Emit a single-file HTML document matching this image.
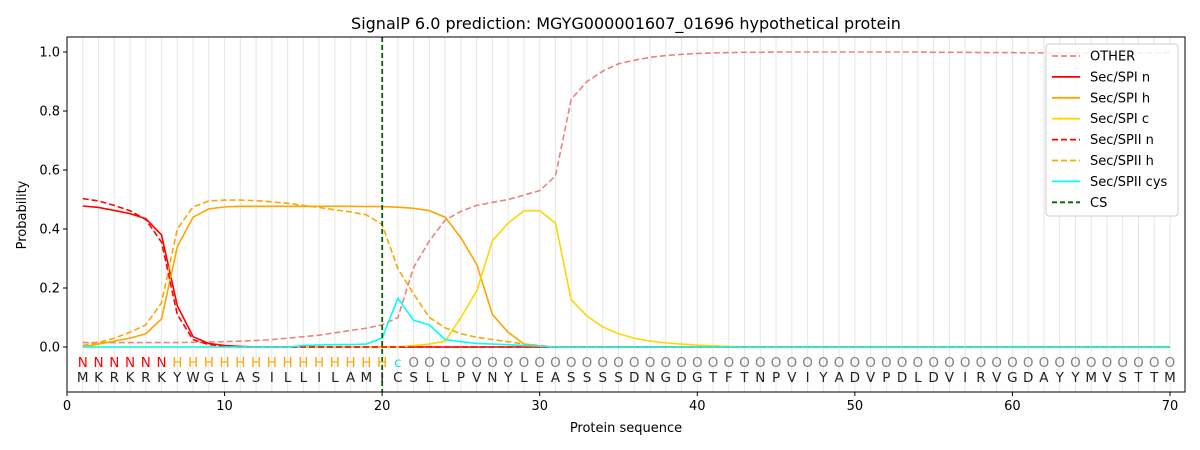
<!DOCTYPE html><html><head><meta charset="utf-8"><style>body{margin:0;background:#fff}svg{display:block;font-family:"DejaVu Sans","Liberation Sans",sans-serif}</style></head><body>
<svg id="s" width="1200" height="450" xmlns="http://www.w3.org/2000/svg">
<rect width="1200" height="450" fill="#fff"/>
<g id="grid"></g>
<g id="lines"></g>
<line x1="382.2" y1="37" x2="382.2" y2="392" stroke="#006400" stroke-width="1.8" stroke-dasharray="5,3"/>
<rect x="67" y="37" width="1118" height="355" fill="none" stroke="#000" stroke-width="1"/>
<g id="ticks" font-size="13"></g>
<g id="seq" font-size="13.5" text-anchor="middle"></g>
<text x="626" y="29" font-size="16" text-anchor="middle">SignalP 6.0 prediction: MGYG000001607_01696 hypothetical protein</text>
<text x="626" y="432" font-size="13" text-anchor="middle">Protein sequence</text>
<text x="26" y="215" font-size="13" text-anchor="middle" transform="rotate(-90 26 215)">Probability</text>
<g id="leg" font-size="13"><rect x="1046" y="44" width="132" height="172" rx="3" fill="#fff" fill-opacity="0.85" stroke="#ccc"/></g>
</svg>
<script>
const X=i=>67+i*15.757,Y=p=>347-p*295,NS="http://www.w3.org/2000/svg";
function el(p,t,a,txt){const e=document.createElementNS(NS,t);for(const k in a)e.setAttribute(k,a[k]);if(txt!=null)e.textContent=txt;document.getElementById(p).appendChild(e);return e;}
for(let i=1;i<=70;i++)el("grid","line",{x1:X(i),x2:X(i),y1:37,y2:392,stroke:"#e6e6e6","stroke-width":1});
function pad(a){while(a.length<70)a.push(a[a.length-1]);return a;}
const other=pad([.015,.015,.015,.015,.015,.015,.015,.016,.017,.018,.02,.022,.025,.03,.035,.04,.048,.056,.064,.075,.1,.27,.36,.43,.46,.48,.49,.5,.515,.53,.58,.84,.9,.935,.96,.972,.982,.988,.992,.995,.997,.998,.999,.999,1,1,1,1,1,1,1,1,1,1,.999,.999,.999,.998,.998,.998,.997,.997,.997,.997,.997,.997,.997,.997,.997,.998]);
const spin=pad([.478,.473,.463,.452,.435,.38,.14,.035,.012,.005,.002,0]);
const spih=pad([0,.01,.02,.03,.045,.095,.34,.44,.468,.475,.477,.477,.477,.477,.477,.477,.477,.477,.476,.476,.474,.47,.462,.44,.37,.28,.11,.05,.01,.003,0]);
const spic=pad([0,0,0,0,0,0,0,0,0,0,0,0,0,0,0,0,0,0,0,0,0,.005,.01,.02,.1,.19,.36,.42,.462,.462,.42,.16,.105,.068,.045,.03,.02,.014,.01,.006,.004,.002,0]);
const s2n=pad([.503,.495,.48,.462,.432,.355,.11,.025,.008,.003,0]);
const s2h=pad([.005,.015,.03,.05,.075,.15,.4,.475,.495,.498,.498,.496,.492,.487,.48,.473,.465,.458,.448,.415,.265,.18,.1,.065,.045,.033,.025,.018,.01,.005,0]);
const cys=pad([0,0,0,0,0,0,0,0,0,0,0,0,0,0,.005,.007,.008,.008,.01,.03,.165,.09,.075,.025,.018,.012,.01,.008,.005,.003,0]);
const S=[[other,"#f08080","6,3"],[spin,"#ff0000",""],[spih,"#ffa500",""],[spic,"#ffd700",""],[s2n,"#ff0000","6,3"],[s2h,"#ffa500","6,3"],[cys,"#00ffff",""]];
for(const [d,c,da] of S)el("lines","polyline",{points:d.map((v,i)=>X(i+1)+","+Y(v)).join(" "),fill:"none",stroke:c,"stroke-width":1.6,"stroke-dasharray":da});
for(let t=0;t<=70;t+=10){el("ticks","line",{x1:X(t),x2:X(t),y1:392,y2:396,stroke:"#000"});el("ticks","text",{x:X(t),y:410,"text-anchor":"middle"},t);}
for(let k=0;k<=5;k++){const v=k*.2,y=Y(v);el("ticks","line",{x1:63,x2:67,y1:y,y2:y,stroke:"#000"});el("ticks","text",{x:60,y:y+4.5,"text-anchor":"end"},v.toFixed(1));}
const seq="MKRKRKYWGLASILLILAMICSLLPVNYLEASSSSDNGDGTFTNPVIYADVPDLDVIRVGDAYYMVSTTM";
for(let i=1;i<=70;i++){let l,c;if(i<=6){l="N";c="#ff0000"}else if(i<=20){l="H";c="#ffa500"}else if(i==21){l="c";c="#00e5ee"}else{l="O";c="#808080"}
el("seq","text",{x:X(i),y:367,fill:c},l);el("seq","text",{x:X(i),y:382,fill:"#222"},seq[i-1]);}
const L=[["OTHER","#f08080","6,3"],["Sec/SPI n","#ff0000",""],["Sec/SPI h","#ffa500",""],["Sec/SPI c","#ffd700",""],["Sec/SPII n","#ff0000","6,3"],["Sec/SPII h","#ffa500","6,3"],["Sec/SPII cys","#00ffff",""],["CS","#006400","5,3"]];
L.forEach(([n,c,da],k)=>{const y=56+k*20.9;el("leg","line",{x1:1052,x2:1080,y1:y,y2:y,stroke:c,"stroke-width":1.8,"stroke-dasharray":da});el("leg","text",{x:1090,y:y+4.5},n);});
</script></body></html>
